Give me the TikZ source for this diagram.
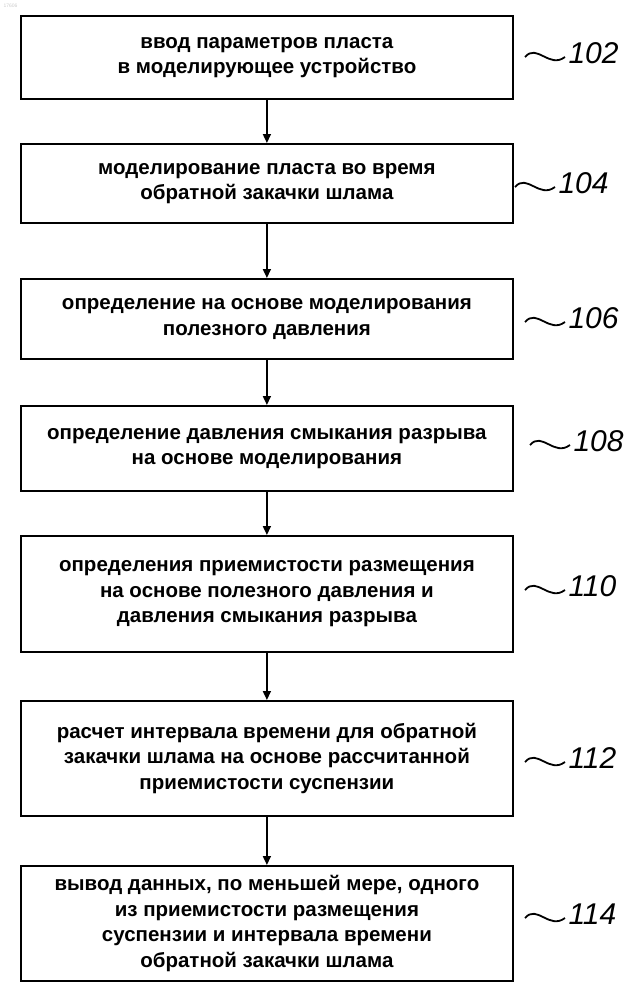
\documentclass[tikz,border=0pt]{standalone}
\usepackage{fontspec}
\setmainfont{Liberation Sans}
\usetikzlibrary{arrows.meta}
\begin{document}
\begin{tikzpicture}[x=1pt,y=-1pt,
  box/.style={draw,line width=1.8pt,minimum width=492pt,anchor=north west,align=center,font=\fontsize{20.5}{25.5}\selectfont\bfseries},
  arr/.style={-{Triangle[length=9pt,width=8pt]},line width=1.6pt},
  lab/.style={font=\fontsize{30}{30}\selectfont\itshape,anchor=west}]
\useasboundingbox (0,0) rectangle (644,988);
\node[font=\tiny,text=gray!40,anchor=north west] (wm) at (0,0) {17606};
\node[box,minimum height=83pt] (b1) at (20,15) {ввод  параметров пласта\\в моделирующее устройство};
\node[box,minimum height=79pt] (b2) at (20,143) {моделирование пласта во время\\обратной закачки шлама};
\node[box,minimum height=80pt] (b3) at (20,278) {определение на основе моделирования\\полезного давления};
\node[box,minimum height=85pt] (b4) at (20,405) {определение давления смыкания разрыва\\на основе моделирования};
\node[box,minimum height=116pt] (b5) at (20,535) {определения приемистости размещения\\на основе полезного давления и\\давления смыкания разрыва};
\node[box,minimum height=115pt] (b6) at (20,700) {расчет интервала времени для обратной\\закачки шлама на основе рассчитанной\\приемистости суспензии};
\node[box,minimum height=115pt] (b7) at (20,865) {вывод данных, по меньшей мере, одного\\из приемистости размещения\\суспензии и интервала времени\\обратной закачки шлама};
\foreach \a/\b in {b1/b2,b2/b3,b3/b4,b4/b5,b5/b6,b6/b7} \draw[arr] (\a.south) -- (\b.north);
\foreach \n/\y/\t/\x in {l1/57/102/525, l2/187/104/515, l3/322/106/525, l4/445/108/530, l5/590/110/525, l6/762/112/525, l7/918/114/525}{
  \draw[line width=1.8pt] (\x,\y) .. controls (\x+12,\y-14) and (\x+24,\y+12) .. (\x+40,\y);
  \node[lab] (\n) at (\x+40,\y-4) {\t};
}
\end{tikzpicture}
\end{document}
